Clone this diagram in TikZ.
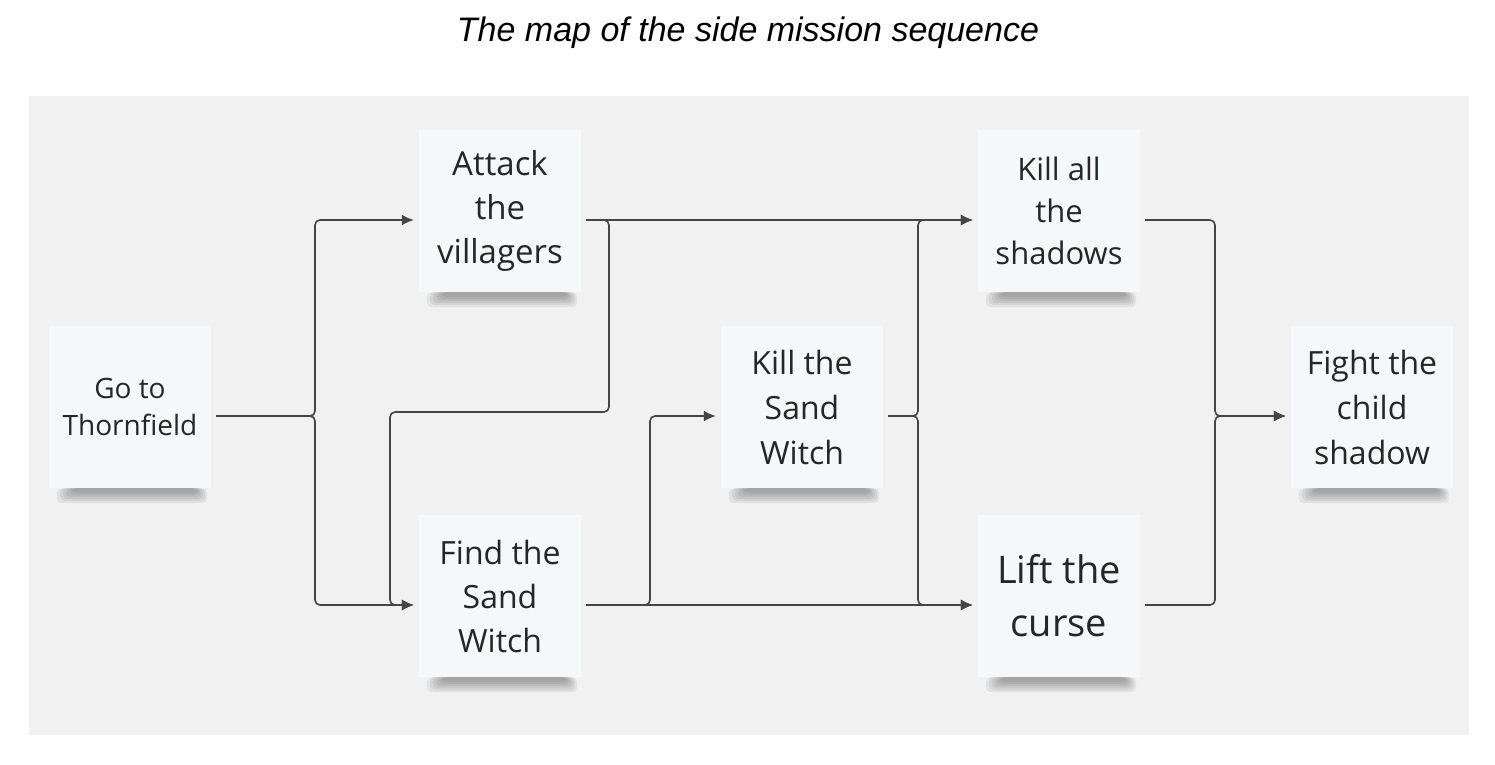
\documentclass[tikz,border=0pt]{standalone}
\usepackage{fontspec}
\setmainfont{Open Sans}
\newfontfamily\titlefont{Liberation Sans}
\usepackage{tikz}
\usetikzlibrary{arrows.meta}
\definecolor{board}{HTML}{F1F1F1}
\definecolor{paper}{HTML}{F6F7F9}
\definecolor{wire}{HTML}{454545}
\tikzstyle{note} = [rectangle, minimum width=162pt, minimum height=162pt,
    inner sep=0pt, fill=paper, align=center, text=black!85]
\tikzstyle{arrow} = [line width=1.6pt, draw=wire, rounded corners=5pt,
    -{Latex[length=12pt, width=11pt]}, shorten >=5pt, shorten <=5pt]
\newcommand{\notefont}[2]{\fontsize{#1}{#2}\selectfont}

\begin{document}
\begin{tikzpicture}[x=1pt, y=-1pt]
            \useasboundingbox (0,0) rectangle (1495,764);
            \fill[board] (29,96) rectangle (1469,735);
            \node[font=\titlefont\itshape\notefont{34}{40}] (title) at (748,33)
            {The map of the side mission sequence};
            % Notes
            \node[note, font=\notefont{28}{37}] (go) at (130,407) {Go to\\Thornfield};
            \node[note, font=\notefont{33}{44}] (attack) at (500,211) {Attack\\the\\villagers};
            \node[note, font=\notefont{32}{44}] (find) at (500,596) {Find the\\Sand\\Witch};
            \node[note, font=\notefont{32}{45}] (witch) at (802,407) {Kill the\\Sand\\Witch};
            \node[note, font=\notefont{31}{42}] (shadows) at (1059,211) {Kill all\\the\\shadows};
            \node[note, font=\notefont{38}{53}] (curse) at (1059,596) {Lift the\\curse};
            \node[note, font=\notefont{32}{45}] (fight) at (1372,407) {Fight the\\child\\shadow};
            % Shadows and ports
            \foreach \n in {go,attack,find,witch,shadows,curse,fight} {
                \foreach \k in {0,...,5}
                    \fill[black, opacity=0.06, rounded corners=5pt]
                    ([xshift={8pt+3pt*\k}]\n.south west) rectangle
                    ([xshift={-4pt-2pt*\k}, yshift={-15pt+2pt*\k}]\n.south east);
                \coordinate (\n-in) at ([yshift=-9pt]\n.west);
                \coordinate (\n-out) at ([yshift=-9pt]\n.east);
            }
            \coordinate (bus1) at (315,407);
            \coordinate (up) at (609,412);
            \coordinate (dn) at (390,412);
            \coordinate (bus2) at (650,407);
            \coordinate (bus3) at (918,407);
            \coordinate (bus4) at (1215,407);
            % Arrows
            \draw[arrow] (go-out) -| (bus1 |- attack-in) -- (attack-in);
            \draw[arrow] (go-out) -| (bus1 |- find-in) -- (find-in);
            \draw[arrow] (attack-out) -- (shadows-in);
            \draw[arrow] (attack-out) -| (up) -- (dn) |- (find-in);
            \draw[arrow] (find-out) -| (bus2 |- witch-in) -- (witch-in);
            \draw[arrow] (find-out) -- (curse-in);
            \draw[arrow] (witch-out) -| (bus3 |- shadows-in) -- (shadows-in);
            \draw[arrow] (witch-out) -| (bus3 |- curse-in) -- (curse-in);
            \draw[arrow] (shadows-out) -| (bus4 |- fight-in) -- (fight-in);
            \draw[arrow] (curse-out) -| (bus4 |- fight-in) -- (fight-in);

        \end{tikzpicture}
\end{document}
